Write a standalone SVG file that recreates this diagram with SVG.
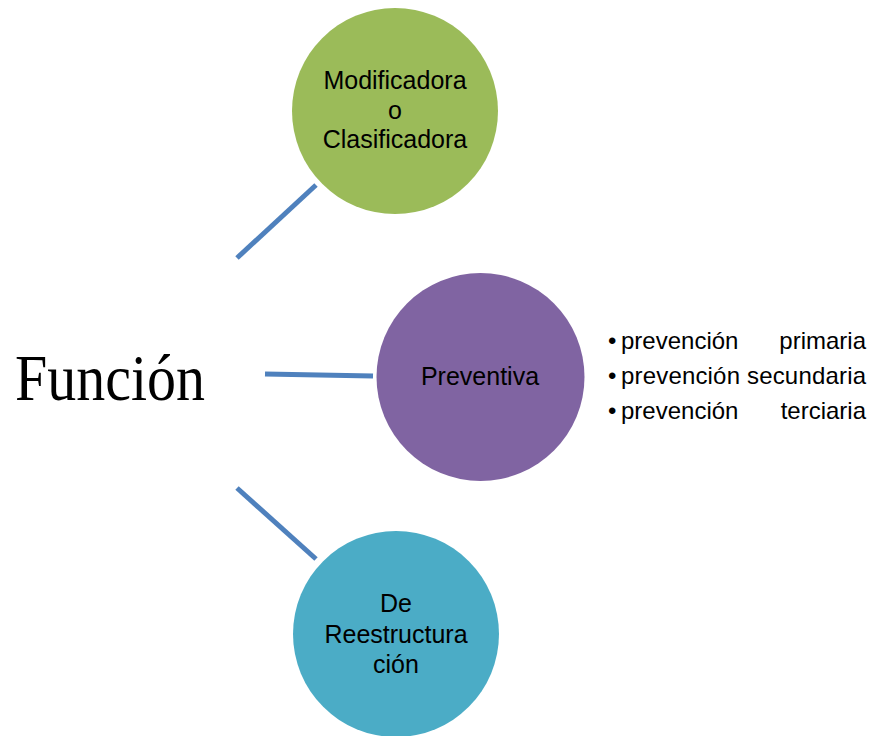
<svg xmlns="http://www.w3.org/2000/svg" width="870" height="736" viewBox="0 0 870 736">
<style>
.lbl{font-family:"Liberation Sans",Arial,sans-serif;font-size:25px;fill:#000;text-anchor:middle}
.lst{font-family:"Liberation Sans",Arial,sans-serif;font-size:24px;fill:#000}
.con{stroke:#4F81BD;stroke-width:5;fill:none}
</style>
<rect width="870" height="736" fill="#fff"/>
<g id="connectors">
<line class="con" x1="237" y1="258" x2="316" y2="185"/>
<line class="con" x1="265" y1="374" x2="373" y2="376"/>
<line class="con" x1="237" y1="488" x2="316" y2="559"/>
</g>
<g id="funcion">
<text x="15" y="400" font-family="'Liberation Serif','DejaVu Serif',serif" font-size="66" textLength="190" lengthAdjust="spacingAndGlyphs" fill="#000">Función</text>
</g>
<g id="modificadora">
<circle cx="395" cy="111" r="103" fill="#9BBB59"/>
<text class="lbl" x="395" y="89">Modificadora</text>
<text class="lbl" x="395" y="119">o</text>
<text class="lbl" x="395" y="148">Clasificadora</text>
</g>
<g id="preventiva">
<circle cx="480.5" cy="377" r="104" fill="#8064A2"/>
<text class="lbl" x="480" y="385">Preventiva</text>
</g>
<g id="reestructuracion">
<circle cx="396" cy="634" r="103" fill="#4BACC6"/>
<text class="lbl" x="396" y="612">De</text>
<text class="lbl" x="396" y="643">Reestructura</text>
<text class="lbl" x="396" y="673">ción</text>
</g>
<g id="lista">
<text class="lst" x="608" y="349">•<tspan x="621">prevención</tspan><tspan x="866" text-anchor="end">primaria</tspan></text>
<text class="lst" x="608" y="384">•<tspan x="621" textLength="245" lengthAdjust="spacing">prevención secundaria</tspan></text>
<text class="lst" x="608" y="419">•<tspan x="621">prevención</tspan><tspan x="866" text-anchor="end">terciaria</tspan></text>
</g>
</svg>
